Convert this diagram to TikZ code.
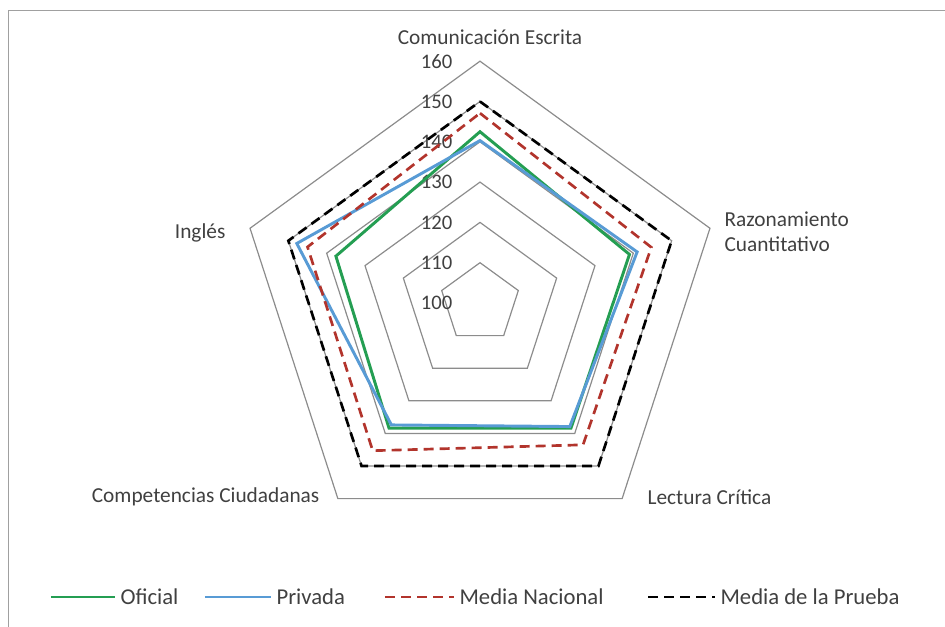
\documentclass[tikz,border=0pt]{standalone}
\usepackage{fontspec}
\setmainfont{Carlito}
\definecolor{txtgray}{RGB}{64,64,64}
\definecolor{ringgray}{RGB}{140,140,140}
\definecolor{framegray}{RGB}{160,160,160}
\definecolor{ofigreen}{RGB}{36,158,82}
\definecolor{priblue}{RGB}{88,155,213}
\definecolor{nacred}{RGB}{178,52,44}
\tikzset{
  ring/.style={draw=ringgray, line width=0.9pt},
  ofiline/.style={draw=ofigreen, line width=2.2pt, line join=miter},
  priline/.style={draw=priblue, line width=2.2pt, line join=miter},
  nacline/.style={draw=nacred, line width=2pt, dash pattern=on 7.5pt off 4.5pt},
  pruline/.style={draw=black, line width=2pt, dash pattern=on 7.5pt off 4.5pt},
  lbl/.style={text=txtgray, font=\fontsize{16}{19}\selectfont, inner sep=1pt},
  leglbl/.style={lbl, anchor=west, font=\fontsize{17}{20}\selectfont},
  ticklbl/.style={lbl, anchor=east, font=\fontsize{15.5}{18}\selectfont}
}
\begin{document}
\begin{tikzpicture}[x=0.75pt,y=0.75pt, declare function={rv(\v)=(\v-100)*4.03;}]
  \useasboundingbox (-480,-324) rectangle (465,303);
  \clip (-480,-324) rectangle (465,303);
  \draw[framegray, line width=1.1pt] (-471.5,-340) rectangle (480,292.3); % chart frame
  % the rings
  \foreach \v in {110,120,...,160}
  \draw[ring] (90:{rv(\v)}) -- (18:{rv(\v)}) -- (-54:{rv(\v)}) -- (-126:{rv(\v)}) -- (162:{rv(\v)}) -- cycle;
  \foreach \v in {100,110,...,160}
  \node[ticklbl] (t\v) at (-26,{rv(\v)}) {\v};
  % the series
  \draw[ofiline] (90:{rv(142.5)}) -- (18:{rv(139)}) -- (-54:{rv(138.4)}) -- (-126:{rv(138.4)}) -- (162:{rv(137.6)}) -- cycle;
  \draw[priline] (90:{rv(140.3)}) -- (18:{rv(141)}) -- (-54:{rv(137.9)}) -- (-126:{rv(137.4)}) -- (162:{rv(147.8)}) -- cycle;
  \draw[nacline] (90:{rv(147.1)}) -- (18:{rv(144.7)}) -- (-54:{rv(143.5)}) -- (-126:{rv(145.3)}) -- (162:{rv(145)}) -- cycle;
  \draw[pruline] (90:{rv(150)}) -- (18:{rv(150)}) -- (-54:{rv(150)}) -- (-126:{rv(150)}) -- (162:{rv(150)}) -- cycle;
  % axis names
  \node[lbl] (ce) at (10,266) {Comunicación Escrita};
  \node[lbl, anchor=west, align=left] (rc) at (243,71) {Razonamiento\\Cuantitativo};
  \node[lbl, anchor=west] (lc) at (166,-194) {Lectura Crítica};
  \node[lbl, anchor=east] (cc) at (-159,-194) {Competencias Ciudadanas};
  \node[lbl, anchor=east] (ing) at (-253,70) {Inglés};
  % legend
  \node[leglbl] (lofi) at (-361,-294) {Oficial};
  \node[leglbl] (lpri) at (-205,-294) {Privada};
  \node[leglbl] (lnac) at (-22,-294) {Media Nacional};
  \node[leglbl] (lpru) at (239,-294) {Media de la Prueba};
  \coordinate (kofi) at (-429,-294);
  \coordinate (kpri) at (-275,-294);
  \coordinate (knac) at (-95,-294);
  \coordinate (kpru) at (168,-294);
  \draw[ofiline, shorten >=3pt] (kofi) -- (lofi.west);
  \draw[priline, shorten >=3pt] (kpri) -- (lpri.west);
  \draw[nacline, shorten >=3pt] (knac) -- (lnac.west);
  \draw[pruline, shorten >=3pt] (kpru) -- (lpru.west);
\end{tikzpicture}
\end{document}
